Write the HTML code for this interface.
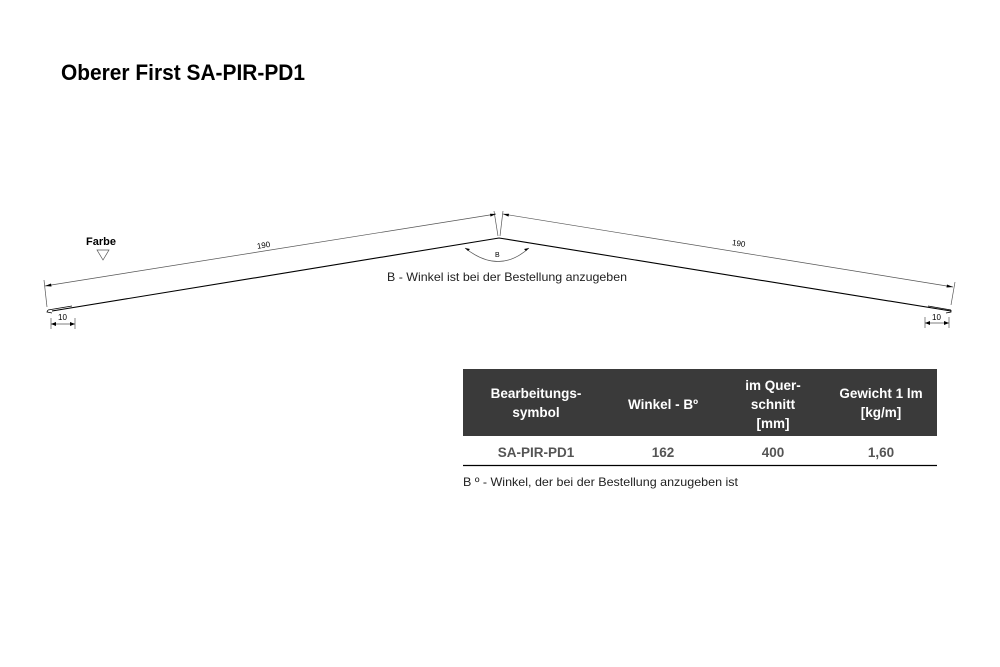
<!DOCTYPE html>
<html><head><meta charset="utf-8"><style>
body{margin:0;background:#fff}
svg{display:block}
text{font-family:"Liberation Sans",sans-serif}
</style></head><body>
<svg width="1000" height="667" viewBox="0 0 1000 667" xmlns="http://www.w3.org/2000/svg">
<text x="61" y="80" font-size="22" font-weight="bold" textLength="244" lengthAdjust="spacingAndGlyphs" fill="#000">Oberer First SA-PIR-PD1</text>
<g stroke="#000" fill="none">
<polyline points="52,311 499,238 951,311" stroke-width="1.1"/>
<polyline points="48,310 72,306" stroke-width="0.8"/>
<path d="M48,310 L47,312 L52,313" stroke-width="0.8"/>
<polyline points="928,306 951,310" stroke-width="0.8"/>
<path d="M951,310 L951,312 L946,313" stroke-width="0.8"/>
</g>
<g stroke="#555" stroke-width="0.7" fill="none">
<line x1="45" y1="286" x2="496" y2="214"/>
<line x1="503" y1="214" x2="953" y2="287"/>
<line x1="44" y1="280" x2="47" y2="307"/>
<line x1="955" y1="282" x2="951" y2="305"/>
<line x1="494" y1="211" x2="498" y2="236"/>
<line x1="503" y1="211" x2="500" y2="236"/>
<line x1="51" y1="324" x2="75" y2="324"/>
<line x1="51" y1="318" x2="51" y2="329"/>
<line x1="75" y1="318" x2="75" y2="329"/>
<line x1="925" y1="323" x2="949" y2="323"/>
<line x1="925" y1="317" x2="925" y2="328"/>
<line x1="949" y1="317" x2="949" y2="328"/>
<path d="M465,248 Q499,275 529,248"/>
<path d="M97,250 L109,250 L103,260 Z"/>
</g>
<g fill="#000">
<path d="M45,286 l6,-2.5 l0.5,3 z"/>
<path d="M496,214 l-6,-0.2 l0.5,2.8 z"/>
<path d="M503,214 l6,-0.2 l-0.5,2.8 z"/>
<path d="M953,287 l-6,-2.5 l-0.5,3 z"/>
<path d="M51,324 l5,-2 v4 z"/><path d="M75,324 l-5,-2 v4 z"/>
<path d="M925,323 l5,-2 v4 z"/><path d="M949,323 l-5,-2 v4 z"/>
<path d="M465,248 l5,1 l-2,2 z"/><path d="M529,248 l-5,1 l2,2 z"/>
</g>
<text x="86" y="245" font-size="11" font-weight="bold">Farbe</text>
<text x="257" y="248" font-size="8" transform="rotate(-9 263 246)">190</text>
<text x="732" y="246" font-size="8" transform="rotate(9 738 244)">190</text>
<text x="58" y="320" font-size="8">10</text>
<text x="932" y="320" font-size="8">10</text>
<text x="495" y="257" font-size="7">B</text>
<text x="387" y="281" font-size="12" fill="#222" textLength="240" lengthAdjust="spacingAndGlyphs">B - Winkel ist bei der Bestellung anzugeben</text>
<rect x="463" y="369" width="474" height="67" fill="#3a3a3a"/>
<g fill="#fff" font-size="13.5" font-weight="bold" text-anchor="middle">
<text x="536" y="398">Bearbeitungs-</text>
<text x="536" y="417">symbol</text>
<text x="663" y="409">Winkel - Bº</text>
<text x="773" y="390">im Quer-</text>
<text x="773" y="409">schnitt</text>
<text x="773" y="428">[mm]</text>
<text x="881" y="398">Gewicht 1 lm</text>
<text x="881" y="417">[kg/m]</text>
</g>
<g fill="#555" font-size="13.5" font-weight="bold" text-anchor="middle">
<text x="536" y="457">SA-PIR-PD1</text>
<text x="663" y="457">162</text>
<text x="773" y="457">400</text>
<text x="881" y="457">1,60</text>
</g>
<line x1="463" y1="465.5" x2="937" y2="465.5" stroke="#000" stroke-width="1.2"/>
<text x="463" y="486" font-size="12" fill="#222" textLength="275" lengthAdjust="spacingAndGlyphs">B º - Winkel, der bei der Bestellung anzugeben ist</text>
</svg>
</body></html>
